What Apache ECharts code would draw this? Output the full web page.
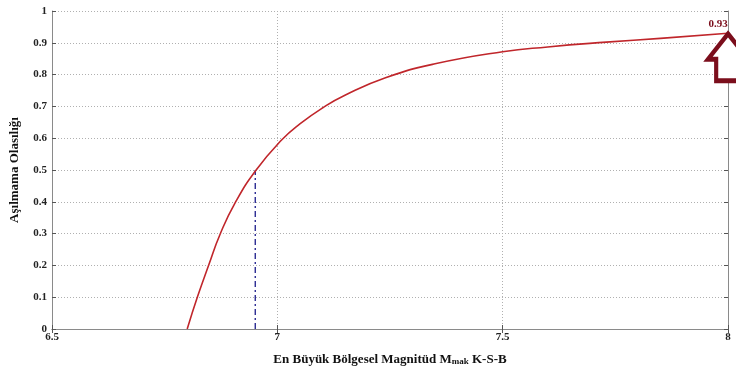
<!DOCTYPE html>
<html>
<head>
<meta charset="utf-8">
<script src="https://cdn.jsdelivr.net/npm/echarts@6/dist/echarts.min.js"></script>
<style>html,body{margin:0;padding:0;background:#fff;}#c{width:736px;height:371px;}</style>
</head>
<body>
<div id="c"></div>
<script>
// Data
const magnitudes = [6.80, 6.823, 6.848, 6.873, 6.906, 6.953, 7.01, 7.05, 7.10, 7.15, 7.24, 7.35, 7.50, 7.60, 7.73, 7.85, 8.00];
const probabilities = [0.0, 0.102, 0.202, 0.298, 0.396, 0.5, 0.595, 0.645, 0.695, 0.735, 0.79, 0.834, 0.872, 0.887, 0.902, 0.914, 0.93];
const medianMag = [6.951, 6.951];
const medianProb = [0, 0.5];
const peakPoint = [8, 0.93];
const peakLabel = '0.93';
const xTicks = { min: 6.5, max: 8, interval: 0.5 };
const yTicks = { min: 0, max: 1, interval: 0.1 };

const font = 'Liberation Serif, Times New Roman, serif';
const curveData = magnitudes.map((m, i) => [m, probabilities[i]]);
const medianData = medianMag.map((m, i) => [m, medianProb[i]]);

const chart = echarts.init(document.getElementById('c'));
const axisLineStyle = { color: '#8a8a8a', width: 1 };
chart.setOption({
  animation: false,
  backgroundColor: '#ffffff',
  grid: { left: 49, right: 8, top: 11, bottom: 40, containLabel: false },
  xAxis: [{
    type: 'value', min: xTicks.min, max: xTicks.max, interval: xTicks.interval,
    axisLine: { show: true, lineStyle: axisLineStyle },
    axisTick: { show: true, inside: true, length: 4, lineStyle: { color: '#555' } },
    axisLabel: { color: '#222', fontFamily: font, fontWeight: 'bold', fontSize: 11, margin: 3 },
    splitLine: { show: true, lineStyle: { color: '#b0b0b0', type: [1, 2], width: 1 } },
    name: '{a|En Büyük Bölgesel Magnitüd M}{b|mak}{a| K-S-B}',
    nameLocation: 'middle', nameGap: 24,
    nameTextStyle: { rich: {
      a: { fontFamily: font, fontWeight: 'bold', fontSize: 13, color: '#111' },
      b: { fontFamily: font, fontWeight: 'bold', fontSize: 9, color: '#111', padding: [4, 0, 0, 0] }
    } }
  }, {
    type: 'value', position: 'top', min: xTicks.min, max: xTicks.max, interval: xTicks.interval,
    axisLine: { show: true, lineStyle: axisLineStyle },
    axisTick: { show: true, inside: true, length: 4, lineStyle: { color: '#555' } },
    axisLabel: { show: false }, splitLine: { show: false }
  }],
  yAxis: [{
    type: 'value', min: yTicks.min, max: yTicks.max, interval: yTicks.interval,
    axisLine: { show: true, lineStyle: axisLineStyle },
    axisTick: { show: true, inside: true, length: 4, lineStyle: { color: '#555' } },
    axisLabel: { color: '#222', fontFamily: font, fontWeight: 'bold', fontSize: 11, margin: 5 },
    splitLine: { show: true, lineStyle: { color: '#b0b0b0', type: [1, 2], width: 1 } },
    name: 'Aşılmama Olasılığı', nameLocation: 'middle', nameGap: 31,
    nameTextStyle: { fontFamily: font, fontWeight: 'bold', fontSize: 13, color: '#111' }
  }, {
    type: 'value', position: 'right', min: yTicks.min, max: yTicks.max, interval: yTicks.interval,
    axisLine: { show: true, lineStyle: axisLineStyle },
    axisTick: { show: true, inside: true, length: 4, lineStyle: { color: '#555' } },
    axisLabel: { show: false }, splitLine: { show: false }
  }],
  series: [{
    type: 'line', data: curveData, smooth: 0.5, showSymbol: false,
    lineStyle: { color: '#c0262b', width: 1.6 },
    z: 3,
    markPoint: {
      silent: true,
      data: [{
        coord: peakPoint,
        symbol: 'path://M22,0 L44,26 L35,26 L35,48 L9,48 L9,26 L0,26 Z',
        symbolSize: [40, 47], symbolKeepAspect: false, symbolOffset: [0, 24],
        itemStyle: { color: '#ffffff', borderColor: '#7b0e1c', borderWidth: 4.5 },
        label: { show: false }
      }, {
        coord: peakPoint,
        symbol: 'circle', symbolSize: 1, itemStyle: { color: 'rgba(0,0,0,0)' },
        label: { show: true, formatter: peakLabel, position: 'inside', offset: [-10, -9],
          fontFamily: font, fontWeight: 'bold', fontSize: 11, color: '#7b0e1c' }
      }]
    }
  }, {
    type: 'line', data: medianData, showSymbol: false,
    lineStyle: { color: '#1a1a8a', width: 1.3, type: [6, 3, 2, 3] }, z: 2
  }]
});
</script>
</body>
</html>
